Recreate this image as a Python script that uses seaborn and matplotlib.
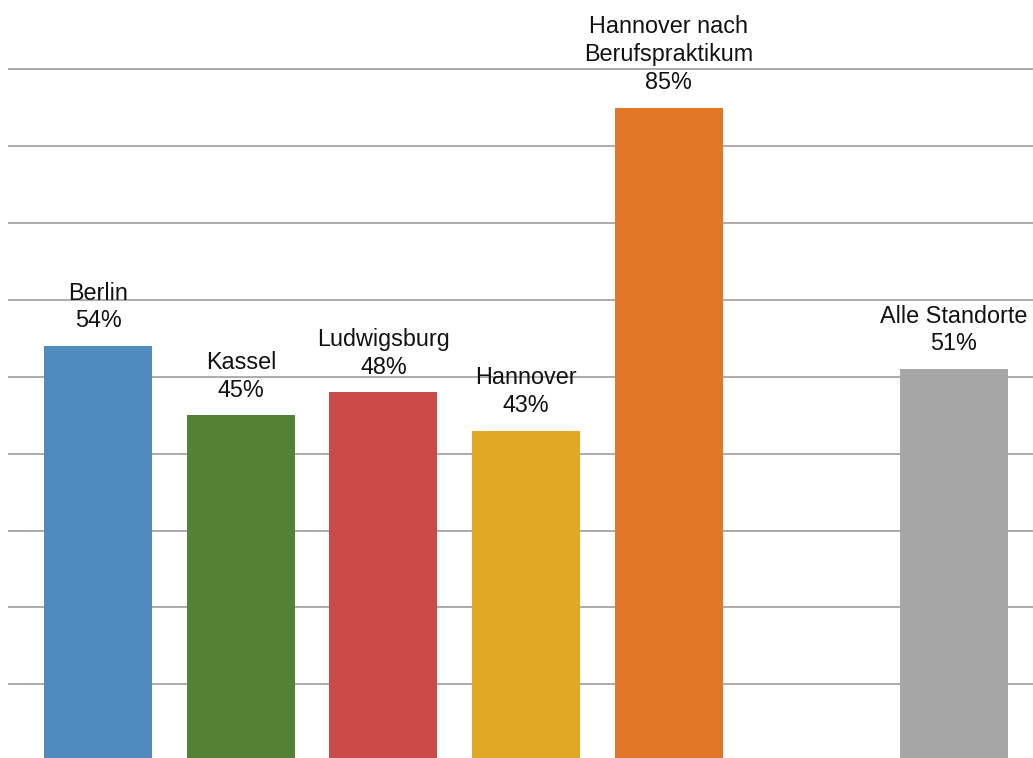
import matplotlib
matplotlib.use("Agg")
import matplotlib.pyplot as plt
import seaborn as sns
import pandas as pd

categories = ["Berlin", "Kassel", "Ludwigsburg", "Hannover",
              "Hannover nach\nBerufspraktikum", "Alle Standorte"]
values = [54, 45, 48, 43, 85, 51]
colors = ["#4F8BBD", "#548235", "#CC4A4A", "#E0A826", "#E07626", "#A6A6A6"]
gap_slot = " "  # empty slot before "Alle Standorte"

sns.set_theme(style="white")
plt.rcParams["font.family"] = ["Liberation Sans", "DejaVu Sans"]

df = pd.DataFrame({"cat": categories, "val": values})
order = categories[:5] + [gap_slot] + categories[5:]
palette = dict(zip(categories, colors))

fig = plt.figure(figsize=(10.33, 7.58), dpi=100)
ax = fig.add_axes([8 / 1033, -0.0042, 1 - 8 / 1033, 1.0042])

sns.barplot(data=df, x="cat", y="val", hue="cat", order=order,
            palette=palette, width=0.757, legend=False, saturation=1,
            linewidth=0, ax=ax, zorder=2)

ax.set_xlim(-0.633, 6.555)
ax.set_ylim(0, 99)
ax.set_yticks(range(0, 100, 10))
ax.yaxis.grid(True, color="#A6A6A6", linewidth=1.3)
ax.xaxis.grid(False)
ax.set_axisbelow(True)
ax.tick_params(left=False, bottom=False, labelleft=False, labelbottom=False)
ax.set_xlabel("")
ax.set_ylabel("")
for s in ax.spines.values():
    s.set_visible(False)

for cat, v in zip(categories, values):
    xi = order.index(cat)
    ax.annotate(f"{cat}\n{v}%", xy=(xi, v), xytext=(0, 9.8),
                textcoords="offset points", ha="center", va="bottom",
                fontsize=16.8, color="#111111", linespacing=1.27,
                multialignment="center")

fig.savefig("out.png", dpi=100)
